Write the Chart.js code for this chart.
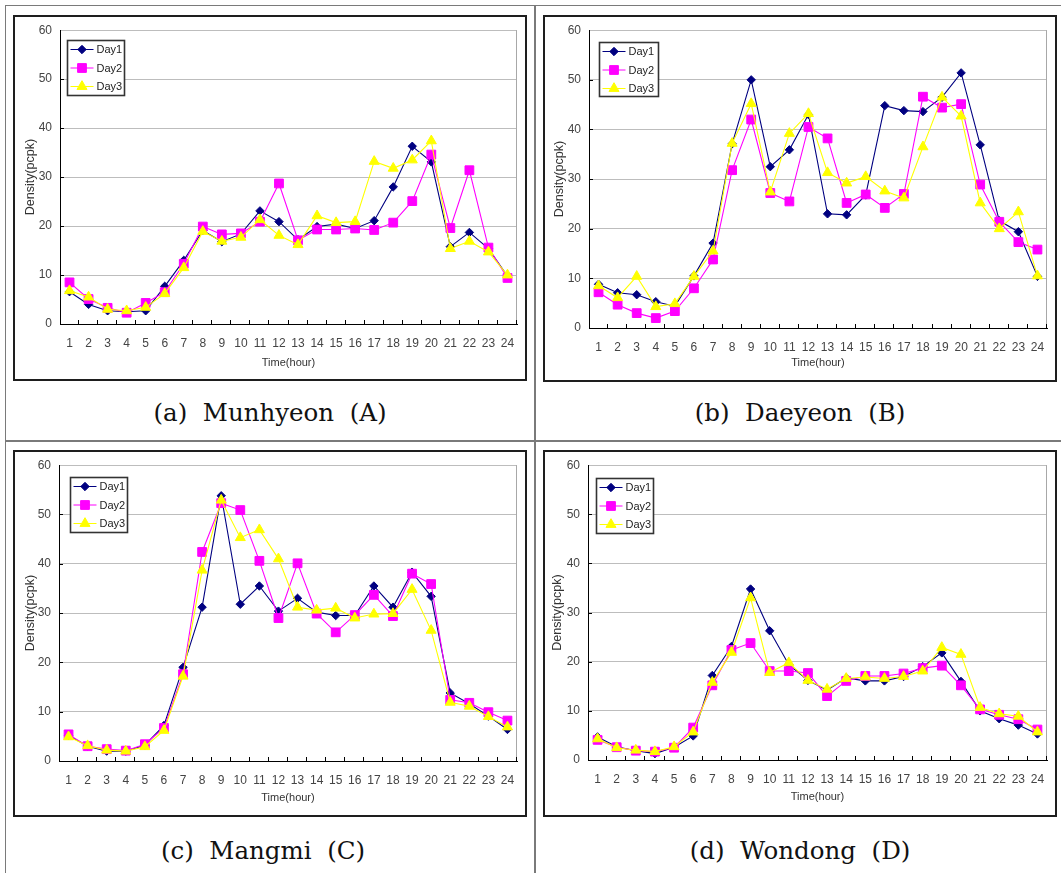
<!DOCTYPE html>
<html>
<head>
<meta charset="utf-8">
<script src="https://cdn.jsdelivr.net/npm/chart.js@4.4.1/dist/chart.umd.min.js"></script>
<style>
  html, body { margin: 0; padding: 0; background: #fff; }
  body { position: relative; width: 1061px; height: 873px; overflow: hidden; }
  .rule { position: absolute; background: #7a7a7a; }
  .frame { position: absolute; box-sizing: border-box; border: 2px solid #1e1e1e; pointer-events: none; }
  canvas { position: absolute; }
  .cap { position: absolute; transform: translateX(-50%); white-space: pre;
         font-family: "DejaVu Serif", "Liberation Serif", serif; font-size: 24.5px; color: #111; }
</style>
</head>
<body>
<!-- table rules -->
<div class="rule" style="left:5px;top:5px;width:1056px;height:1px"></div>
<div class="rule" style="left:5px;top:5px;width:1px;height:868px"></div>
<div class="rule" style="left:534px;top:5px;width:2px;height:868px"></div>
<div class="rule" style="left:5px;top:440px;width:1056px;height:2px"></div>

<canvas id="chartA" width="514" height="366" style="left:13px;top:15px"></canvas>
<canvas id="chartB" width="514" height="367" style="left:543px;top:15px"></canvas>
<canvas id="chartC" width="514" height="367" style="left:13px;top:450px"></canvas>
<canvas id="chartD" width="514" height="367" style="left:543px;top:450px"></canvas>
<div class="frame" style="left:13px;top:15px;width:514px;height:366px"></div>
<div class="frame" style="left:543px;top:15px;width:514px;height:367px"></div>
<div class="frame" style="left:13px;top:450px;width:514px;height:367px"></div>
<div class="frame" style="left:543px;top:450px;width:514px;height:367px"></div>

<div class="cap" style="left:270px;top:398px">(a)  Munhyeon  (A)</div>
<div class="cap" style="left:800px;top:398px">(b)  Daeyeon  (B)</div>
<div class="cap" style="left:263px;top:836px">(c)  Mangmi  (C)</div>
<div class="cap" style="left:800px;top:836px">(d)  Wondong  (D)</div>

<script>
// Hour of day (categories)
const hours = ['1','2','3','4','5','6','7','8','9','10','11','12',
               '13','14','15','16','17','18','19','20','21','22','23','24'];
const seriesNames = ['Day1', 'Day2', 'Day3'];
const yMin = 0, yMax = 60, yStep = 10;

// Munhyeon (A)
const munhyeonDay1 = [6.6,4.0,2.7,2.5,2.7,7.7,13.0,19.1,16.8,18.4,23.1,20.9,17.2,19.9,20.4,19.5,21.1,28.0,36.3,33.1,15.8,18.7,15.4,9.8];
const munhyeonDay2 = [8.5,5.1,3.3,2.3,4.3,6.5,12.3,19.9,18.3,18.5,20.9,28.7,17.1,19.3,19.3,19.5,19.2,20.7,25.1,34.6,19.6,31.4,15.6,9.4];
const munhyeonDay3 = [6.8,5.5,3.0,2.7,3.4,6.2,11.5,18.9,16.9,17.7,21.3,18.1,16.2,22.1,20.7,20.9,33.2,31.8,33.5,37.4,15.4,16.9,14.7,10.0];

// Daeyeon (B)
const daeyeonDay1 = [8.8,7.1,6.7,5.3,4.4,10.5,17.1,37.1,50.0,32.5,35.9,43.0,23.0,22.8,26.8,44.8,43.8,43.6,46.5,51.4,36.9,21.6,19.4,10.4];
const daeyeonDay2 = [7.2,4.7,3.0,2.0,3.4,8.0,13.8,31.8,42.0,27.2,25.5,40.5,38.2,25.2,26.9,24.2,27.0,46.6,44.4,45.1,28.9,21.4,17.3,15.8];
const daeyeonDay3 = [8.5,6.1,10.4,4.3,4.9,10.4,15.5,37.2,45.2,27.4,39.2,43.2,31.3,29.2,30.5,27.6,26.2,36.5,46.5,42.7,25.2,20.0,23.4,10.5];

// Mangmi (C)
const mangmiDay1 = [5.2,3.0,2.0,2.0,3.2,7.2,19.0,31.2,53.8,31.8,35.5,30.4,33.0,30.2,29.5,29.5,35.5,31.2,38.3,33.4,13.8,11.6,9.1,6.4];
const mangmiDay2 = [5.4,3.0,2.4,2.1,3.4,6.7,17.6,42.4,52.3,50.9,40.6,29.0,40.1,29.9,26.1,29.6,33.7,29.4,38.0,35.9,12.4,11.8,9.9,8.2];
const mangmiDay3 = [4.9,3.1,2.2,2.0,2.9,6.2,17.2,38.7,52.9,45.3,46.9,41.0,31.2,30.6,31.0,29.0,29.8,29.9,34.8,26.5,11.9,11.1,9.0,6.9];

// Wondong (D)
const wondongDay1 = [4.7,2.7,1.9,1.3,2.6,4.9,17.2,23.1,34.8,26.3,19.4,16.2,14.2,16.7,16.1,16.1,17.0,19.0,21.8,16.0,10.0,8.4,7.1,5.3];
const wondongDay2 = [4.1,2.6,1.9,1.7,2.5,6.6,15.2,22.4,23.8,18.1,18.1,17.7,13.0,16.1,17.1,17.1,17.6,18.7,19.2,15.2,10.3,9.2,8.3,6.2];
const wondongDay3 = [4.3,2.5,2.0,1.7,2.7,5.7,15.8,21.9,33.0,17.8,19.8,16.2,14.4,16.6,16.9,16.6,17.0,18.1,22.9,21.5,10.7,9.4,8.9,5.7];

// Per-series look: colour, marker and marker radius
const seriesStyle = [
  { color: '#000080', point: 'rectRot',  radius: 4.2 },
  { color: '#ff00ff', point: 'rect',     radius: 6.2 },
  { color: '#ffff00', point: 'triangle', radius: 5.8 }
];

const sansFont = '"Liberation Sans", Arial, sans-serif';

// Draws a marker of the given style (uses Chart.js helper when present)
function drawMarker(ctx, style, radius, color, x, y) {
  ctx.save();
  ctx.fillStyle = color;
  ctx.strokeStyle = color;
  ctx.lineWidth = 1;
  if (Chart.helpers && Chart.helpers.drawPoint) {
    Chart.helpers.drawPoint(ctx, { pointStyle: style, radius: radius, rotation: 0, borderWidth: 1 }, x, y);
  } else {
    ctx.beginPath();
    if (style === 'rect') {
      const s = radius * Math.SQRT1_2;
      ctx.rect(x - s, y - s, 2 * s, 2 * s);
    } else if (style === 'rectRot') {
      ctx.moveTo(x - radius, y); ctx.lineTo(x, y - radius);
      ctx.lineTo(x + radius, y); ctx.lineTo(x, y + radius); ctx.closePath();
    } else {
      for (let k = 0; k < 3; k++) {
        const a = k * 2 * Math.PI / 3;
        const px = x + Math.sin(a) * radius, py = y - Math.cos(a) * radius;
        if (k === 0) ctx.moveTo(px, py); else ctx.lineTo(px, py);
      }
      ctx.closePath();
    }
    ctx.fill(); ctx.stroke();
  }
  ctx.restore();
}

// Inner tick marks, right plot frame and the boxed legend
const plotDecor = {
  id: 'plotDecor',
  afterDraw(chart, args, opts) {
    const { ctx, chartArea: a, scales: { x, y } } = chart;
    ctx.save();
    // right frame of the plot area
    ctx.strokeStyle = '#a8a8a8';
    ctx.lineWidth = 1;
    ctx.beginPath();
    ctx.moveTo(Math.round(a.right) - 0.5, a.top);
    ctx.lineTo(Math.round(a.right) - 0.5, a.bottom);
    ctx.stroke();

    // category boundary ticks along the bottom axis (pointing inward)
    ctx.strokeStyle = '#000';
    ctx.beginPath();
    const step = x.getPixelForValue(1) - x.getPixelForValue(0);
    const first = x.getPixelForValue(0) - step / 2;
    for (let i = 1; i <= hours.length; i++) {
      const px = Math.round(first + i * step) - 0.5;
      ctx.moveTo(px, a.bottom);
      ctx.lineTo(px, a.bottom - 4);
    }
    // value ticks along the left axis (pointing inward)
    for (let v = yMin + yStep; v < yMax; v += yStep) {
      const py = Math.round(y.getPixelForValue(v)) + 0.5;
      ctx.moveTo(a.left, py);
      ctx.lineTo(a.left + 4, py);
    }
    ctx.stroke();

    // legend box
    const L = opts.box;
    const bx = Math.round(a.left + L[0]) + 0.5, by = Math.round(a.top + L[1]) + 0.5;
    ctx.fillStyle = '#fff';
    ctx.fillRect(bx, by, L[2], L[3]);
    ctx.strokeStyle = '#333';
    ctx.lineWidth = 1.6;
    ctx.strokeRect(bx, by, L[2], L[3]);
    ctx.font = '11px ' + sansFont;
    ctx.textBaseline = 'middle';
    ctx.textAlign = 'left';
    chart.data.datasets.forEach((ds, i) => {
      const st = seriesStyle[i];
      const ry = by + 9 + i * 18.5;
      ctx.strokeStyle = st.color;
      ctx.lineWidth = 1;
      ctx.beginPath();
      ctx.moveTo(bx + 3, ry);
      ctx.lineTo(bx + 26, ry);
      ctx.stroke();
      drawMarker(ctx, st.point, st.radius, st.color, bx + 14.5, ry);
      ctx.fillStyle = '#222';
      ctx.fillText(ds.label, bx + 29, ry + 0.5);
    });
    ctx.restore();
  }
};

const panels = [
  { id: 'chartA', data: [munhyeonDay1, munhyeonDay2, munhyeonDay3],
    area: { left: 47, top: 11, right: 504, bottom: 309 }, yTitleX: 18, xTitleY: 348, legend: [7, 10, 57, 55] },
  { id: 'chartB', data: [daeyeonDay1, daeyeonDay2, daeyeonDay3],
    area: { left: 46, top: 10, right: 504, bottom: 313 }, yTitleX: 17, xTitleY: 348, legend: [10, 12, 59, 54] },
  { id: 'chartC', data: [mangmiDay1, mangmiDay2, mangmiDay3],
    area: { left: 46, top: 13, right: 504, bottom: 311 }, yTitleX: 18, xTitleY: 348, legend: [11, 12, 57, 55] },
  { id: 'chartD', data: [wondongDay1, wondongDay2, wondongDay3],
    area: { left: 45, top: 11, right: 504, bottom: 310 }, yTitleX: 15, xTitleY: 347, legend: [8, 13, 57, 55] }
];

panels.forEach(p => {
  const canvas = document.getElementById(p.id);
  const W = canvas.width, H = canvas.height;
  const yTitleSize = 12.5, xTitleSize = 11;
  new Chart(canvas, {
    type: 'line',
    data: {
      labels: hours,
      datasets: p.data.map((vals, i) => ({
        label: seriesNames[i],
        data: vals,
        borderColor: seriesStyle[i].color,
        backgroundColor: seriesStyle[i].color,
        borderWidth: 1.1,
        pointStyle: seriesStyle[i].point,
        pointRadius: seriesStyle[i].radius,
        pointBorderWidth: 1,
        pointBackgroundColor: seriesStyle[i].color,
        pointBorderColor: seriesStyle[i].color,
        tension: 0,
        fill: false,
        order: 3 - i
      }))
    },
    options: {
      responsive: false,
      animation: false,
      devicePixelRatio: 1,
      layout: { padding: { left: 0, top: p.area.top, right: W - p.area.right, bottom: 0 } },
      plugins: {
        legend: { display: false },
        tooltip: { enabled: false },
        plotDecor: { box: p.legend }
      },
      scales: {
        x: {
          type: 'category',
          offset: true,
          grid: { display: true, drawOnChartArea: false, drawTicks: false },
          border: { display: true, color: '#000', width: 1 },
          ticks: { autoSkip: false, maxRotation: 0, padding: 12, color: '#444',
                   font: { family: sansFont, size: 12 } },
          title: { display: true, text: 'Time(hour)', color: '#333',
                   font: { family: sansFont, size: xTitleSize },
                   padding: { top: 0, bottom: (H - p.xTitleY) - xTitleSize * 0.6 } },
          afterFit(scale) { scale.height = H - p.area.bottom; }
        },
        y: {
          min: yMin, max: yMax,
          ticks: { stepSize: yStep, padding: 8, color: '#444',
                   font: { family: sansFont, size: 12 } },
          grid: { drawTicks: false, lineWidth: 1,
                  color: c => (c.tick && c.tick.value === yMin) ? 'rgba(0,0,0,0)' : '#bdbdbd' },
          border: { display: true, color: '#000', width: 1 },
          title: { display: true, text: 'Density(pcpk)', color: '#333',
                   font: { family: sansFont, size: yTitleSize },
                   padding: { top: p.yTitleX - yTitleSize * 0.6, bottom: 0 } },
          afterFit(scale) { scale.width = p.area.left; }
        }
      }
    },
    plugins: [plotDecor]
  });
});
</script>
</body>
</html>
